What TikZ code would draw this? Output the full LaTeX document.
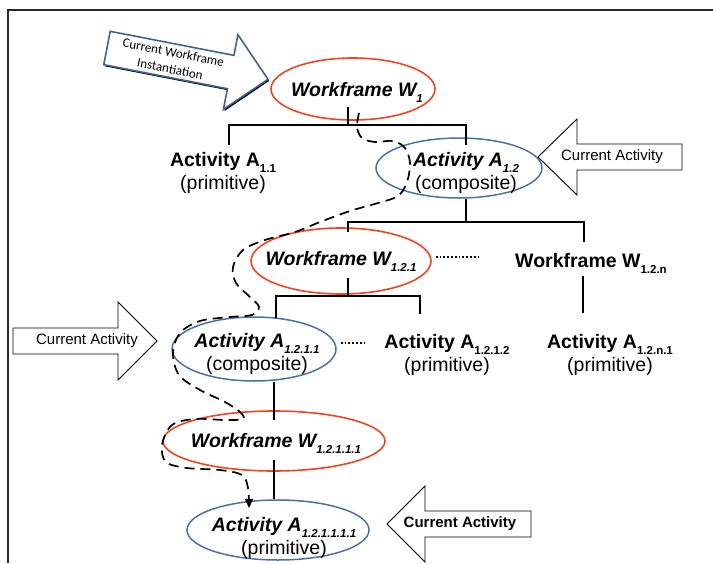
\documentclass[tikz,border=0pt]{standalone}
\usepackage{fontspec}
\setmainfont{Liberation Sans}
\newfontfamily\calfont{Carlito}
\usetikzlibrary{arrows.meta,shapes.geometric,calc}
\definecolor{wfred}{HTML}{F4431C}
\definecolor{actblue}{HTML}{4872A6}
\definecolor{tiltblue}{HTML}{3F6391}
\definecolor{framegray}{HTML}{2B2A20}
\newcommand{\idx}[1]{\raisebox{-6pt}{\fontsize{11.5}{12}\selectfont #1}}

\begin{document}
\begin{tikzpicture}[
  x=1pt, y=1pt,
  lbl/.style={inner sep=0pt, align=center,
              font=\fontsize{19.5}{23.5}\selectfont},
  wfring/.style={ellipse, draw=wfred, line width=1.6pt, inner sep=0pt},
  actring/.style={ellipse, draw=actblue, line width=1.5pt, inner sep=0pt},
  callout/.style={draw, fill=white, line width=0.9pt, line join=miter},
  ctext/.style={inner sep=0pt, font=\fontsize{15}{18}\selectfont},
  tree/.style={line width=2.9pt},
  dotrow/.style={line width=2.4pt, dash pattern=on 1.8pt off 2pt},
  trail/.style={line width=1.7pt, dash pattern=on 10pt off 6pt},
]
\useasboundingbox (0,0) rectangle (713,-563);

%% Frame
\draw[framegray, line width=2pt] (713,-10) -- (8,-10) -- (8,-563);

%% Rings
\node[wfring, minimum width=164pt, minimum height=62pt] (w1) at (353,-89) {};
\node[actring, minimum width=166pt, minimum height=60pt] (a12) at (459,-168) {};
\node[wfring, minimum width=180pt, minimum height=66pt] (w121) at (341,-261) {};
\node[actring, minimum width=164pt, minimum height=64pt] (a1211) at (254,-349) {};
\node[wfring, minimum width=222pt, minimum height=60pt] (w12111) at (274,-441) {};
\node[actring, minimum width=182pt, minimum height=60pt] (a121111) at (278,-530) {};

%% Labels
\node[lbl, anchor=base] (w1t) at (357,-96) {\bfseries\itshape Workframe W\idx{1}};
\node[lbl] (a11t) at (223,-173) {\textbf{Activity A\idx{1.1}}\\(primitive)};
\node[lbl] (a12t) at (466,-173) {\textbf{\textit{Activity A\idx{1.2}}}\\(composite)};
\node[lbl, anchor=base] (w121t) at (341,-265) {\bfseries\itshape Workframe W\idx{1.2.1}};
\node[lbl, anchor=base] (w12nt) at (591,-267) {\bfseries Workframe W\idx{1.2.n}};
\node[lbl] (a1211t) at (257,-354) {\textbf{\textit{Activity A\idx{1.2.1.1}}}\\(composite)};
\node[lbl] (a1212t) at (447,-355) {\textbf{Activity A\idx{1.2.1.2}}\\(primitive)};
\node[lbl] (a12n1t) at (610,-355) {\textbf{Activity A\idx{1.2.n.1}}\\(primitive)};
\node[lbl, anchor=base] (w12111t) at (276,-447) {\bfseries\itshape Workframe W\idx{1.2.1.1.1}};
\node[lbl, font=\fontsize{19.5}{23}\selectfont] (a121111t) at (284,-538)
  {\textbf{\textit{Activity A\idx{1.2.1.1.1.1}}}\\(primitive)};

%% Tree
\coordinate (j1l) at (229,-125);
\coordinate (j1r) at (466,-125);
\draw[tree] ($(w1.south)+(-5,14)$) -- ++(0,-19);
\draw[tree] (j1l) ++(0,-20) -- (j1l) -- (j1r) -- ++(0,-20);

\coordinate (j2l) at (348,-222);
\coordinate (j2r) at (584,-222);
\draw[tree] ($(a12.south)+(7,0)$) -- ++(0,-24);
\draw[tree] (j2l) ++(0,-10) -- (j2l) -- (j2r) -- ++(0,-20);
\draw[tree] ($(w12nt.base)+(-8,-9)$) -- ++(0,-37);

\coordinate (j3l) at (276,-296);
\coordinate (j3r) at (420,-296);
\draw[tree] ($(w121.south)+(7,17)$) -- ++(0,-19);
\draw[tree] (j3l) ++(0,-22) -- (j3l) -- (j3r) -- ++(0,-18);

\draw[tree] ($(a1211.south)+(20,0)$) -- ++(0,-38);
\draw[tree] ($(w12111.south)+(0,12)$) -- ++(0,-39);

%% Elided siblings
\draw[dotrow] ($(w121.east)+(4,4)$) -- ++(45,0);
\draw[dotrow] ($(a1211.east)+(4,6)$) -- ++(23,0);

%% Trail of the current execution
\draw[trail, -{Triangle[length=9pt,width=8pt]}] plot[smooth, tension=0.55] coordinates {
  (359,-113) (357,-127) (362,-138) (375,-142) (393,-141) (405,-148)
  (410,-163) (407,-182) (398,-196) (378,-203) (350,-211) (320,-222)
  (295,-232) (265,-240) (243,-250) (233,-267) (236,-283) (250,-297)
  (259,-307) (252,-315) (230,-317) (200,-321) (180,-333) (173,-353)
  (179,-375) (200,-390) (225,-402) (240,-412) (243,-419) (225,-420)
  (195,-419) (172,-425) (162,-445) (166,-462) (187,-468) (220,-470)
  (242,-475) (248,-488) (249,-508)};

%% Current workframe instantiation
\begin{scope}[shift={(107,-48)}, rotate=-11]
  \fill[black, shift={(1.4,-1.4)}] (0,17) -- (126,17) -- (126,38) -- (164,0)
    -- (126,-38) -- (126,-17) -- (0,-17) -- cycle;
  \draw[draw=tiltblue, fill=white, line width=1.6pt, line join=miter]
    (0,17) -- (126,17) -- (126,38) -- (164,0) -- (126,-38) -- (126,-17)
    -- (0,-17) -- cycle;
  \node[rotate=-11, align=center, inner sep=0pt,
        font=\calfont\fontsize{13}{17}\selectfont] (instt) at (66,0)
    {Current Workframe\\Instantiation};
\end{scope}

%% Current activity markers
\draw[callout] (682,-144) -- (577,-144) -- (577,-119) -- (538,-157)
  -- (577,-195) -- (577,-170) -- (682,-170) -- cycle;
\node[ctext] (cur1) at (612,-157) {Current Activity};

\draw[callout] (13,-328) -- (118,-328) -- (118,-302) -- (157,-341)
  -- (118,-380) -- (118,-354) -- (13,-354) -- cycle;
\node[ctext] (cur2) at (87,-341) {Current Activity};

\draw[callout] (531,-511) -- (425,-511) -- (425,-486) -- (387,-524)
  -- (425,-562) -- (425,-537) -- (531,-537) -- cycle;
\node[ctext, font=\fontsize{15}{18}\selectfont\bfseries] (cur3) at (460,-524)
  {Current Activity};

\end{tikzpicture}
\end{document}
